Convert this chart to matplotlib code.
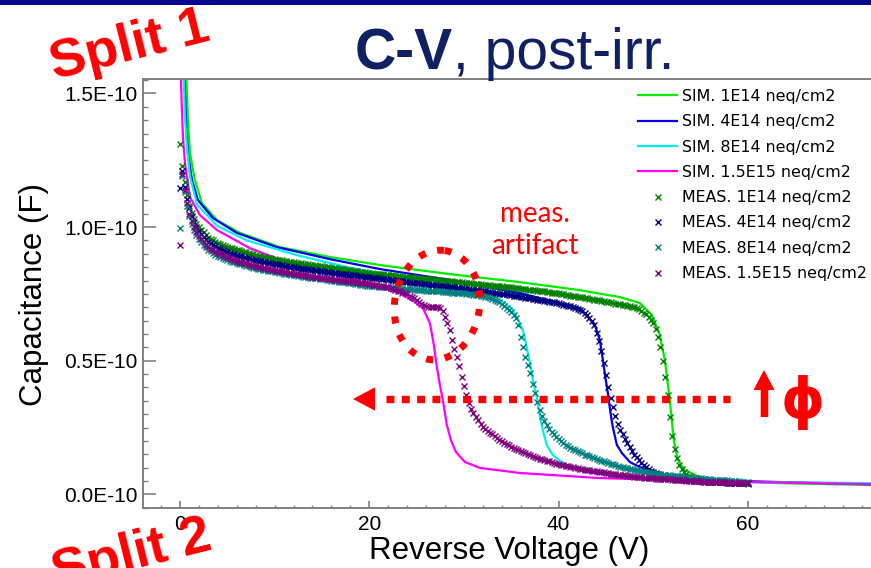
import numpy as np
import matplotlib
matplotlib.use("Agg")
import matplotlib.pyplot as plt
from matplotlib.patches import Ellipse, Polygon, Rectangle
from matplotlib.ticker import MultipleLocator, FixedLocator, FuncFormatter

plt.rcParams['font.family'] = ['Liberation Sans', 'DejaVu Sans']

PF = 1e-12  # capacitance values below are stored in pF

# ---------------- simulated C-V curves (V, pF) ----------------
sim_1e14_v = [0.55, 0.84, 1.06, 1.58, 2.32, 3.91, 6.34, 10.56, 15.84, 21.12, 28.51, 35.90,
              42.24, 46.46, 48.57, 49.84, 50.69, 51.22, 51.74, 52.16, 52.59, 53.33, 54.91,
              58.08, 63.36, 72.97, 80.0]
sim_1e14_c = [170.0, 140.0, 127.7, 117.6, 109.0, 102.6, 97.8, 92.5, 88.8, 85.8, 82.4, 79.4,
              76.4, 73.8, 71.6, 67.1, 59.6, 50.2, 35.2, 20.3, 12.8, 9.1, 6.4,
              5.0, 4.2, 3.5, 3.4]

sim_4e14_v = [0.35, 0.63, 0.84, 1.27, 1.90, 3.48, 6.02, 10.24, 15.84, 21.12, 28.51, 35.90,
              42.24, 43.82, 44.35, 44.67, 44.98, 45.20, 45.51, 45.72, 46.15, 46.67, 47.52,
              48.57, 51.43, 55.97, 63.36, 72.97, 80.0]
sim_4e14_c = [170.0, 140.0, 127.7, 117.6, 110.1, 103.4, 97.8, 92.5, 88.0, 84.3, 80.2, 75.3,
              69.7, 63.4, 57.8, 50.3, 42.8, 37.9, 29.7, 25.2, 18.5, 15.5, 12.1,
              10.2, 7.2, 5.3, 4.6, 3.8, 3.7]

sim_8e14_v = [0.25, 0.53, 0.74, 1.06, 1.80, 3.91, 7.07, 12.35, 17.95, 23.23, 28.51, 32.73,
              34.32, 35.16, 35.80, 36.22, 36.64, 36.96, 37.28, 37.70, 38.01, 38.33, 38.75,
              39.39, 40.44, 42.24, 45.41, 50.69, 60.19, 72.97, 80.0]
sim_8e14_c = [170.0, 142.0, 130.0, 119.0, 108.5, 100.5, 95.0, 89.5, 84.8, 81.3, 77.9, 74.6,
              71.6, 69.0, 64.5, 61.5, 54.8, 49.2, 42.8, 36.4, 29.7, 24.0, 18.4,
              14.7, 11.7, 9.1, 6.9, 5.4, 4.6, 4.2, 4.1]

sim_15e15_v = [0.05, 0.11, 0.21, 0.32, 0.53, 1.06, 2.11, 3.91, 7.39, 12.67, 17.95, 23.23,
               24.82, 25.66, 26.40, 26.82, 27.14, 27.46, 27.77, 28.19, 28.62, 29.14, 30.10,
               31.68, 35.90, 44.35, 54.91, 72.97, 80.0]
sim_15e15_c = [180.0, 154.9, 143.8, 133.7, 124.0, 111.2, 104.5, 98.9, 92.1, 85.0, 80.9, 75.3,
               72.0, 69.7, 64.1, 55.9, 47.6, 40.9, 35.3, 26.0, 20.3, 15.9, 12.1,
               9.9, 8.0, 6.1, 5.0, 3.8, 3.7]

# ---------------- measured sweeps: 0 V to 60 V, 0.25 V steps (pF) ----------------
MEAS_STEP_V = 0.25

meas_1e14_c = [
    131.0, 123.0, 117.0, 112.0, 108.0, 105.3, 103.0, 101.3, 100.0, 99.0, 98.0, 97.0, 96.0,
    95.5, 95.0, 94.5, 94.0, 93.6, 93.2, 92.9, 92.5, 92.3, 92.0, 91.8, 91.5,
    91.3, 91.0, 90.8, 90.5, 90.3, 90.0, 89.8, 89.5, 89.3, 89.1, 88.9, 88.7,
    88.6, 88.4, 88.2, 88.0, 87.8, 87.7, 87.5, 87.4, 87.2, 87.1, 86.9, 86.8,
    86.7, 86.6, 86.4, 86.3, 86.2, 86.1, 85.9, 85.8, 85.7, 85.6, 85.4, 85.3,
    85.2, 85.1, 84.9, 84.8, 84.7, 84.6, 84.4, 84.3, 84.2, 84.1,
    83.9, 83.8, 83.7, 83.6, 83.4, 83.3, 83.2, 83.1, 82.9, 82.8,
    82.7, 82.6, 82.5, 82.4, 82.4, 82.3, 82.2, 82.1, 82.0, 81.9,
    81.8, 81.7, 81.6, 81.5, 81.5, 81.4, 81.3, 81.2, 81.1, 81.0,
    80.9, 80.8, 80.7, 80.6, 80.6, 80.5, 80.4, 80.3, 80.2, 80.1,
    80.0, 79.9, 79.8, 79.7, 79.7, 79.6, 79.5, 79.4, 79.3, 79.2,
    79.1, 79.0, 78.9, 78.8, 78.8, 78.7, 78.6, 78.5, 78.4, 78.3,
    78.2, 78.1, 78.0, 77.9, 77.9, 77.8, 77.7, 77.6, 77.5, 77.4,
    77.3, 77.2, 77.1, 77.0, 76.9, 76.7, 76.6, 76.5, 76.4, 76.3,
    76.2, 76.1, 76.0, 75.9, 75.8, 75.6, 75.5, 75.4, 75.3, 75.2,
    75.0, 74.9, 74.7, 74.6, 74.4, 74.3, 74.1, 74.0, 73.8, 73.7, 73.5, 73.4, 73.2, 73.1, 72.9, 72.8,
    72.6, 72.5, 72.3, 72.1, 71.9, 71.8, 71.6, 71.4, 71.2, 71.1, 70.9, 70.7, 70.5, 70.4, 70.2, 70.0,
    69.6, 69.2, 68.7, 68.0, 67.3, 66.5, 65.4, 64.0, 62.0, 59.0, 55.0, 50.0, 44.0, 37.0, 29.0, 22.0,
    17.0, 13.5, 11.0, 9.5, 8.4, 7.6, 7.0, 6.5, 6.2, 6.0, 5.8, 5.5, 5.4, 5.3, 5.1, 5.0,
    4.9, 4.9, 4.8, 4.7, 4.6, 4.6, 4.5, 4.4, 4.4, 4.3, 4.3, 4.2, 4.2, 4.1, 4.1, 4.0]

meas_4e14_c = [
    114.6, 121.0, 115.0, 110.5, 107.0, 104.3, 102.0, 100.1, 98.5, 97.4, 96.3, 95.4, 94.5,
    93.9, 93.3, 92.8, 92.3, 91.9, 91.5, 91.1, 90.7, 90.4, 90.1, 89.8, 89.5,
    89.3, 89.0, 88.8, 88.5, 88.3, 88.1, 87.8, 87.6, 87.4, 87.2, 87.0, 86.8,
    86.7, 86.5, 86.3, 86.1, 86.0, 85.8, 85.7, 85.5, 85.4, 85.2, 85.1, 84.9,
    84.8, 84.7, 84.5, 84.4, 84.3, 84.2, 84.0, 83.9, 83.8, 83.7, 83.5, 83.4,
    83.3, 83.2, 83.1, 83.0, 82.9, 82.7, 82.6, 82.5, 82.4, 82.3,
    82.2, 82.1, 82.0, 81.9, 81.8, 81.6, 81.5, 81.4, 81.3, 81.2,
    81.1, 81.0, 80.9, 80.8, 80.7, 80.5, 80.4, 80.3, 80.2, 80.1,
    80.0, 79.9, 79.8, 79.7, 79.6, 79.4, 79.3, 79.2, 79.1, 79.0,
    78.9, 78.8, 78.7, 78.6, 78.5, 78.4, 78.3, 78.2, 78.1, 78.0,
    77.9, 77.8, 77.7, 77.6, 77.5, 77.4, 77.3, 77.2, 77.1, 77.0,
    76.9, 76.8, 76.6, 76.5, 76.4, 76.3, 76.1, 76.0, 75.9, 75.8,
    75.6, 75.5, 75.4, 75.3, 75.1, 75.0, 74.9, 74.8, 74.6, 74.5,
    74.4, 74.2, 74.1, 73.9, 73.8, 73.6, 73.5, 73.3, 73.2, 73.0,
    72.9, 72.7, 72.6, 72.4, 72.3, 72.1, 72.0, 71.8, 71.7, 71.5,
    71.3, 71.0, 70.8, 70.5, 70.3, 70.0, 69.8, 69.5,
    69.0, 68.5, 67.8, 67.0, 66.1, 65.0, 63.2, 60.5, 57.5, 53.5, 49.0, 44.5, 40.0, 36.0, 32.5, 29.5,
    26.5, 24.2, 22.5, 20.8, 19.3, 17.8, 16.3, 14.9, 13.8, 12.8, 11.9, 11.0, 10.2, 9.5, 8.9, 8.3,
    7.9, 7.5, 7.2, 6.9, 6.7, 6.5, 6.2, 6.0,
    5.9, 5.8, 5.7, 5.6, 5.5, 5.4, 5.3, 5.2, 5.1, 5.1, 5.0, 4.9, 4.9, 4.8, 4.8, 4.7,
    4.7, 4.6, 4.6, 4.5, 4.5, 4.5, 4.4, 4.4, 4.4, 4.3, 4.3, 4.3, 4.2, 4.2, 4.1, 4.1]

meas_8e14_c = [
    99.6, 119.0, 113.0, 108.0, 104.0, 101.3, 99.0, 97.1, 95.5, 94.4, 93.3, 92.4, 91.5,
    90.9, 90.3, 89.7, 89.2, 88.8, 88.4, 88.1, 87.7, 87.4, 87.1, 86.8, 86.5,
    86.3, 86.0, 85.8, 85.5, 85.3, 85.1, 84.8, 84.6, 84.4, 84.3, 84.1, 83.9,
    83.7, 83.6, 83.4, 83.2, 83.1, 82.9, 82.8, 82.6, 82.5, 82.3, 82.2, 82.0,
    81.9, 81.8, 81.6, 81.5, 81.4, 81.3, 81.1, 81.0, 80.9, 80.8, 80.6, 80.5,
    80.4, 80.3, 80.1, 80.0, 79.9, 79.8, 79.6, 79.5, 79.4, 79.3,
    79.1, 79.0, 78.9, 78.8, 78.6, 78.5, 78.4, 78.3, 78.1, 78.0,
    77.9, 77.9, 77.8, 77.7, 77.6, 77.6, 77.5, 77.4, 77.3, 77.3,
    77.2, 77.1, 77.0, 77.0, 76.9, 76.8, 76.7, 76.7, 76.6, 76.5,
    76.4, 76.4, 76.3, 76.2, 76.2, 76.1, 76.0, 76.0, 75.9, 75.9,
    75.8, 75.7, 75.7, 75.6, 75.5, 75.5, 75.4, 75.3, 75.3, 75.2,
    75.1, 75.0, 74.8, 74.7, 74.6, 74.5, 74.3, 74.2,
    74.0, 73.8, 73.5, 73.2, 72.8, 72.3, 71.8, 71.2, 70.5, 69.8, 69.0, 68.2, 67.2, 66.0, 63.5, 59.0,
    55.0, 51.5, 48.5, 45.4, 41.2, 37.8, 34.5, 31.5, 29.4, 27.6, 26.0, 24.6, 23.5, 22.5, 21.5, 20.6,
    20.0, 19.3, 18.6, 18.0, 17.5, 17.0, 16.5, 16.1, 15.7, 15.3, 14.9, 14.6, 14.2, 13.9, 13.5, 13.2,
    12.9, 12.6, 12.3, 12.0, 11.7, 11.4, 11.2, 10.9, 10.7, 10.4, 10.2, 10.0, 9.8, 9.6, 9.4, 9.2,
    9.0, 8.8, 8.7, 8.5, 8.3, 8.2, 8.0, 7.9, 7.8, 7.7, 7.5, 7.4, 7.3, 7.2, 7.1, 7.0,
    6.9, 6.8, 6.7, 6.7, 6.6, 6.5, 6.4, 6.3, 6.2, 6.1, 6.1, 6.0, 5.9, 5.8, 5.7, 5.6,
    5.5, 5.5, 5.4, 5.4, 5.3, 5.2, 5.2, 5.1, 5.0, 5.0, 4.9, 4.9, 4.8, 4.7, 4.7, 4.6]

meas_15e15_c = [
    93.3, 120.0, 114.0, 109.0, 105.0, 102.3, 100.0, 98.1, 96.5, 95.4, 94.4, 93.4, 92.5,
    91.9, 91.3, 90.8, 90.3, 89.9, 89.5, 89.1, 88.7, 88.4, 88.0, 87.7, 87.4,
    87.1, 86.9, 86.6, 86.4, 86.1, 85.9, 85.6, 85.4, 85.2, 85.0, 84.8, 84.7,
    84.5, 84.3, 84.1, 83.9, 83.7, 83.6, 83.4, 83.3, 83.1, 82.9, 82.8, 82.6,
    82.5, 82.3, 82.2, 82.1, 81.9, 81.8, 81.7, 81.5, 81.4, 81.3, 81.1, 81.0,
    80.9, 80.8, 80.7, 80.6, 80.5, 80.3, 80.2, 80.1, 80.0, 79.9,
    79.8, 79.7, 79.6, 79.5, 79.4, 79.2, 79.1, 79.0, 78.9, 78.8,
    78.6, 78.5, 78.3, 78.1, 78.0, 77.8, 77.7, 77.5,
    77.2, 76.9, 76.5, 76.2, 75.9, 75.5, 75.2, 74.8,
    74.4, 74.0, 73.4, 72.8, 72.0, 71.3, 70.8, 70.4,
    70.2, 70.1, 70.1, 70.0, 70.0, 69.8, 68.5, 66.4,
    64.0, 61.5, 57.8, 54.5, 51.4, 48.0, 44.0, 40.5,
    37.2, 34.0, 32.0, 30.3, 29.1, 27.8, 26.5, 25.3,
    24.5, 23.8, 23.1, 22.4, 21.7, 21.1, 20.5, 19.9,
    19.4, 18.9, 18.4, 17.9, 17.5, 17.0, 16.6, 16.2,
    15.8, 15.4, 15.1, 14.7, 14.4, 14.0, 13.7, 13.4,
    13.1, 12.8, 12.6, 12.3, 12.0, 11.8, 11.5, 11.3,
    11.1, 10.9, 10.7, 10.5, 10.3, 10.1, 10.0, 9.8,
    9.6, 9.5, 9.3, 9.2, 9.0, 8.9, 8.7, 8.6,
    8.4, 8.3, 8.2, 8.0, 7.9, 7.8, 7.6, 7.5,
    7.4, 7.3, 7.2, 7.1, 7.0, 6.9, 6.7, 6.6,
    6.5, 6.5, 6.4, 6.3, 6.2, 6.1, 6.1, 6.0,
    5.9, 5.9, 5.8, 5.7, 5.7, 5.6, 5.6, 5.5,
    5.4, 5.4, 5.3, 5.3, 5.2, 5.1, 5.1, 5.0,
    5.0, 4.9, 4.9, 4.9, 4.8, 4.8, 4.7, 4.7,
    4.7, 4.6, 4.6, 4.6, 4.5, 4.5, 4.5, 4.4,
    4.4, 4.4, 4.3, 4.3, 4.3, 4.2, 4.2, 4.2]

sim_labels = ["SIM. 1E14 neq/cm2", "SIM. 4E14 neq/cm2", "SIM. 8E14 neq/cm2", "SIM. 1.5E15 neq/cm2"]
meas_labels = ["MEAS. 1E14 neq/cm2", "MEAS. 4E14 neq/cm2", "MEAS. 8E14 neq/cm2", "MEAS. 1.5E15 neq/cm2"]
sim_colors = ["#00ee00", "#0000ee", "#00f0f0", "#ff00ff"]
meas_colors = ["#008000", "#000080", "#008080", "#800080"]

x_ticks = [0, 20, 40, 60]
y_ticks = [0.0, 0.5e-10, 1.0e-10, 1.5e-10]

# ---------------- figure ----------------
W, H = 871, 568
fig = plt.figure(figsize=(W / 100, H / 100), dpi=100)
fig.patch.set_facecolor("white")

ax = fig.add_axes([143 / W, (H - 508) / H, (890 - 143) / W, (508 - 79) / H])

sims = [(sim_1e14_v, sim_1e14_c), (sim_4e14_v, sim_4e14_c),
        (sim_8e14_v, sim_8e14_c), (sim_15e15_v, sim_15e15_c)]
for (v, c), col, lab in zip(sims, sim_colors, sim_labels):
    ax.plot(v, np.array(c) * PF, color=col, lw=1.6, label=lab, zorder=2)

meas = [meas_1e14_c, meas_4e14_c, meas_8e14_c, meas_15e15_c]
for c, col, lab in zip(meas, meas_colors, meas_labels):
    v = np.arange(len(c)) * MEAS_STEP_V
    ax.plot(v, np.array(c) * PF, ls="none", marker="x", ms=5.0, mew=1.0,
            color=col, label=lab, zorder=3)

ax.set_xlim(-3.9, 75.0)
ax.set_ylim(-0.051e-10, 1.554e-10)

ax.xaxis.set_major_locator(FixedLocator(x_ticks))
ax.xaxis.set_minor_locator(MultipleLocator(2))
ax.yaxis.set_major_locator(FixedLocator(y_ticks))
ax.yaxis.set_minor_locator(MultipleLocator(0.05e-10))
ax.yaxis.set_major_formatter(FuncFormatter(lambda y, p: f"{y / 1e-10:.1f}E-10"))

grey = "#808080"
for s in ax.spines.values():
    s.set_color(grey)
    s.set_linewidth(1.4)
ax.tick_params(axis="x", which="major", direction="in", length=5, width=1.2, color=grey,
               labelsize=15, pad=5, top=False)
ax.tick_params(axis="x", which="minor", direction="in", length=2.5, width=1.0, color=grey, top=False)
ax.tick_params(axis="y", which="major", direction="in", length=9, width=1.2, color=grey,
               labelsize=15, pad=4, right=False)
ax.tick_params(axis="y", which="minor", direction="in", length=3.8, width=1.0, color=grey, right=False)

ax.set_xlabel("Reverse Voltage (V)", fontsize=22.5)
ax.xaxis.set_label_coords(509 / W, (H - 559) / H, transform=fig.transFigure)
ax.xaxis.label.set_va("baseline")
ax.set_ylabel("Capacitance (F)", fontsize=22.5, va="center")
ax.yaxis.set_label_coords(34 / W, (H - 294) / H, transform=fig.transFigure)

ax.legend(loc="upper left", bbox_to_anchor=(638 / W, 1 - 89 / H), bbox_transform=fig.transFigure,
          frameon=False, borderpad=0, borderaxespad=0, handlelength=2.47, handletextpad=0.3,
          labelspacing=0.65, numpoints=1, prop={"family": "DejaVu Sans", "size": 11.4})

# ---------------- slide decorations (pixel coordinates) ----------------
ov = fig.add_axes([0, 0, 1, 1], zorder=10)
ov.set_xlim(0, W)
ov.set_ylim(H, 0)
ov.axis("off")
ov.patch.set_alpha(0)

ov.add_patch(Rectangle((0, 0), W, 4.5, color="#02078e", lw=0))

navy = "#0f2163"
renderer = fig.canvas.get_renderer()
t1 = ov.text(355, 69, "C-V", fontsize=41, weight="bold", color=navy, ha="left", va="baseline")
bb = t1.get_window_extent(renderer)
ov.text(bb.x1, 69, ", post-irr.", fontsize=41, color=navy, ha="left", va="baseline")

red = "#ff0000"
ov.text(54, 79, "Split 1", fontsize=39, weight="bold", color=red, rotation=14,
        rotation_mode="anchor", ha="left", va="baseline")
ov.text(56, 588, "Split 2", fontsize=39, weight="bold", color=red, rotation=14,
        rotation_mode="anchor", ha="left", va="baseline")

ov.text(535, 230, "meas.\nartifact", fontsize=20, color=red, family="Lato",
        ha="center", va="center", linespacing=1.3)

ov.add_patch(Ellipse((437, 305), width=85, height=110, angle=8, fill=False,
                     edgecolor=red, lw=5, linestyle=(0, (1.0, 1.7))))

# horizontal dashed arrow pointing to lower depletion voltage
ov.plot([386, 730], [399, 399], color=red, lw=5.3, linestyle=(0, (1.08, 1.0)),
        dash_capstyle="butt", solid_capstyle="butt")
ov.add_patch(Polygon([(353, 399), (375, 387.3), (375, 410.7)], closed=True, color=red, lw=0))

# up-arrow next to the fluence symbol
ov.add_patch(Polygon([(764, 370), (774.5, 390), (768.3, 390), (768.3, 417),
                      (760.7, 417), (760.7, 390), (753.5, 390)], closed=True, color=red, lw=0))
ov.text(802.5, 418, "\u03d5", fontsize=40, weight="bold", color=red,
        family=["DejaVu Sans"], ha="center", va="baseline")

fig.savefig("out.png", dpi=100)
